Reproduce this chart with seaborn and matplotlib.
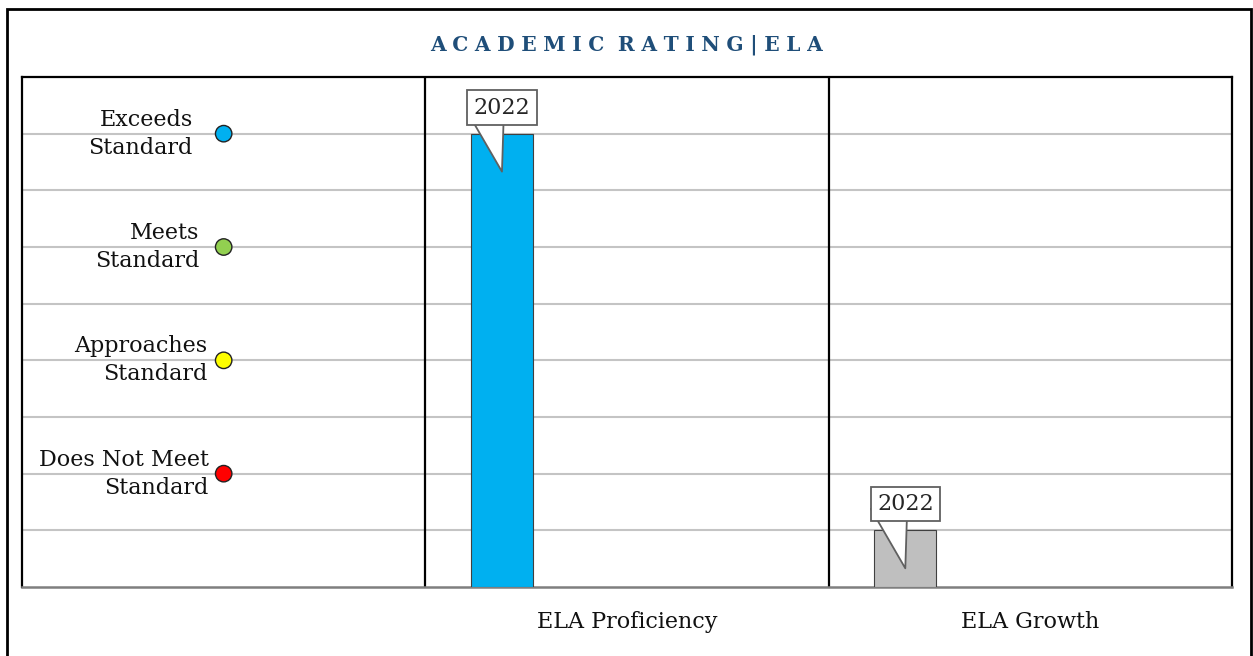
import numpy as np
import pandas as pd
import matplotlib
matplotlib.use("Agg")
import matplotlib.pyplot as plt
from matplotlib.patches import Rectangle
import seaborn as sns

# chart data
categories = ["ELA Proficiency", "ELA Growth"]
ratings = [8, 1]
years = ["2022", "2022"]
bar_colors = ["#00B0F0", "#BFBFBF"]

level_labels = ["Exceeds\nStandard", "Meets\nStandard", "Approaches\nStandard", "Does Not Meet\nStandard"]
level_values = [8, 6, 4, 2]
level_colors = ["#00B0F0", "#92D050", "#FFFF00", "#FF0000"]

title = "ACADEMIC RATING|ELA"

sns.set_theme(style="white")
plt.rcParams["font.family"] = ["DejaVu Serif", "DejaVu Sans"]

fig = plt.figure(figsize=(12.53, 6.56), dpi=100)
ax = fig.add_axes([22 / 1253, 1 - 587 / 656, 1210 / 1253, 510 / 656])

# bars sit left of the category centre (first of several year slots)
bar_offset = -0.31
df = pd.DataFrame({
    "pos": np.arange(1, len(categories) + 1) + bar_offset,
    "rating": ratings,
    "category": categories,
})
sns.barplot(data=df, x="pos", y="rating", hue="category", palette=bar_colors,
            native_scale=True, width=0.154, dodge=False, legend=False, saturation=1,
            edgecolor="#404040", linewidth=0.8, ax=ax, zorder=3)

# callouts with the year: wedge first, box drawn over its wide end
for x, v, yr in zip(df["pos"], ratings, years):
    ax.annotate("", xy=(x, v - 0.67), xytext=(x - 0.04, v + 0.46), zorder=5,
                arrowprops=dict(arrowstyle="wedge,tail_width=1.7", fc="white",
                                ec="#606060", lw=1.3, shrinkA=0, shrinkB=0,
                                mutation_scale=16))
    ax.text(x, v + 0.46, yr, fontsize=16, ha="center", va="center", zorder=6,
            bbox=dict(boxstyle="square,pad=0.28", fc="white", ec="#606060", lw=1.3))

# rating level markers in the first column
lv = pd.DataFrame({"x": [0] * len(level_values), "y": level_values, "lab": level_labels})
sns.scatterplot(data=lv, x="x", y="y", hue="lab", palette=level_colors, s=140,
                edgecolor="#222222", linewidth=1, legend=False, ax=ax, zorder=4)
label_pads = [31, 24, 16, 15]
for lab, y, pad in zip(level_labels, level_values, label_pads):
    ax.annotate(lab, xy=(0, y), xytext=(-pad, 0), textcoords="offset pixels",
                ha="right", va="center", multialignment="right", fontsize=16,
                color="#111111", linespacing=1.35)

ax.set_xlim(-0.5, len(categories) + 0.5)
ax.set_ylim(0, 9)
ax.set_yticks(range(1, 9))
ax.set_yticklabels([])
ax.yaxis.grid(True, color="#C4C4C4", lw=1.5)
ax.set_axisbelow(True)
ax.set_xticks(range(1, len(categories) + 1))
ax.set_xticklabels(categories, fontsize=16, color="#111111")
ax.tick_params(axis="x", length=0, pad=17)
ax.tick_params(axis="y", length=0)
ax.set_xlabel("")
ax.set_ylabel("")

for sep in np.arange(0.5, len(categories), 1.0):
    ax.axvline(sep, color="black", lw=1.6, zorder=2)

for side in ["top", "left", "right"]:
    ax.spines[side].set_color("black")
    ax.spines[side].set_linewidth(1.6)
ax.spines["bottom"].set_color("#7F7F7F")
ax.spines["bottom"].set_linewidth(1.8)

# letter-spaced title
spaced_title = "\u2004 ".join("\u2004".join(w) for w in title.split(" "))
fig.text(627 / 1253, 1 - 45 / 656, spaced_title, ha="center", va="center",
         fontsize=14.5, fontweight="bold", color="#1F4E79")

# outer frame (open at the bottom)
fig.add_artist(Rectangle((7 / 1253, -0.05), 1244 / 1253, 1.05 - 9 / 656,
                         transform=fig.transFigure, fill=False, ec="black", lw=2))

fig.savefig("out.png", dpi=100)
